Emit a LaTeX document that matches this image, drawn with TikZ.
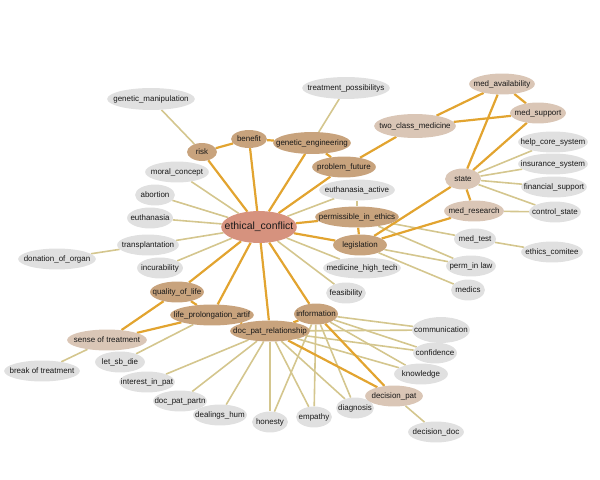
\documentclass[tikz,border=0pt]{standalone}
\usepackage{fontspec}
\setmainfont{Liberation Sans}
\usetikzlibrary{shapes.geometric, backgrounds}
\definecolor{hubfill}{RGB}{214,146,126}
\definecolor{corefill}{RGB}{200,163,125}
\definecolor{midfill}{RGB}{218,198,182}
\definecolor{leaffill}{RGB}{224,224,224}
\definecolor{stronglink}{RGB}{226,164,48}
\definecolor{weaklink}{RGB}{212,198,142}

\begin{document}
\begin{tikzpicture}[x=1bp,y=-1bp,line cap=round,
  base/.style={ellipse,inner xsep=-30bp,inner ysep=0pt,minimum height=21,text=black!90,font=\fontsize{8}{9}\selectfont},
  hub/.style={base,fill=hubfill,font=\fontsize{10.5}{12}\selectfont},
  core/.style={base,fill=corefill},
  mid/.style={base,fill=midfill},
  leaf/.style={base,fill=leaffill},
  strong/.style={stronglink,line width=2.2bp},
  weak/.style={weaklink,line width=1.6bp}]
\useasboundingbox (0,0) rectangle (600,480);
\node[hub,minimum width=76,minimum height=32] (ec) at (259,227) {ethical\_conflict};
\node[leaf,minimum width=88,minimum height=22] (gman) at (151,99) {genetic\_manipulation};
\node[leaf,minimum width=88,minimum height=22] (tposs) at (346,88) {treatment\_possibilitys};
\node[core,minimum width=30,minimum height=18] (risk) at (202,152) {risk};
\node[core,minimum width=36,minimum height=18] (benefit) at (249,139) {benefit};
\node[core,minimum width=78,minimum height=22] (geng) at (312,143) {genetic\_engineering};
\node[core,minimum width=64] (pfut) at (344,167) {problem\_future};
\node[mid,minimum width=82,minimum height=24] (twoc) at (415,126) {two\_class\_medicine};
\node[mid,minimum width=66] (mavail) at (502,84) {med\_availability};
\node[mid,minimum width=56] (msupp) at (538,113) {med\_support};
\node[leaf,minimum width=70] (hcore) at (553,142) {help\_core\_system};
\node[leaf,minimum width=70] (insur) at (553,164) {insurance\_system};
\node[leaf,minimum width=66] (finsup) at (554,187) {financial\_support};
\node[leaf,minimum width=52] (cstate) at (555,212) {control\_state};
\node[mid,minimum width=36] (state) at (463,179) {state};
\node[mid,minimum width=60] (mres) at (474,211) {med\_research};
\node[leaf,minimum width=42] (mtest) at (475,239) {med\_test};
\node[leaf,minimum width=62] (ethcom) at (552,252) {ethics\_comitee};
\node[leaf,minimum width=64] (moral) at (177,172) {moral\_concept};
\node[leaf,minimum width=40] (abort) at (155,195) {abortion};
\node[leaf,minimum width=46] (euth) at (150,218) {euthanasia};
\node[leaf,minimum width=62] (transp) at (148,245) {transplantation};
\node[leaf,minimum width=78] (donat) at (57,259) {donation\_of\_organ};
\node[leaf,minimum width=46] (incur) at (160,268) {incurability};
\node[leaf,minimum width=76] (euthact) at (357,190) {euthanasia\_active};
\node[core,minimum width=84] (permeth) at (357,217) {permissible\_in\_ethics};
\node[core,minimum width=54] (legis) at (360,245) {legislation};
\node[leaf,minimum width=78] (mht) at (362,268) {medicine\_high\_tech};
\node[leaf,minimum width=50] (permlaw) at (471,266) {perm\_in law};
\node[leaf,minimum width=34] (medics) at (468,290) {medics};
\node[leaf,minimum width=40] (feas) at (346,293) {feasibility};
\node[core,minimum width=54] (qol) at (177,292) {quality\_of\_life};
\node[core,minimum width=84] (lpa) at (212,315) {life\_prolongation\_artif};
\node[mid,minimum width=80] (sense) at (107,340) {sense of treatment};
\node[leaf,minimum width=76] (break) at (42,371) {break of treatment};
\node[leaf,minimum width=50] (letdie) at (120,362) {let\_sb\_die};
\node[core,minimum width=80] (dpr) at (270,331) {doc\_pat\_relationship};
\node[core,minimum width=44] (info) at (316,314) {information};
\node[leaf,minimum width=58,minimum height=26] (comm) at (441,330) {communication};
\node[leaf,minimum width=44] (conf) at (435,353) {confidence};
\node[leaf,minimum width=54] (know) at (421,374) {knowledge};
\node[leaf,minimum width=56] (intpat) at (147,382) {interest\_in\_pat};
\node[leaf,minimum width=54] (dpp) at (180,401) {doc\_pat\_partn};
\node[leaf,minimum width=54] (dealh) at (220,415) {dealings\_hum};
\node[leaf,minimum width=36] (honest) at (270,422) {honesty};
\node[leaf,minimum width=36] (empath) at (314,417) {empathy};
\node[leaf,minimum width=38] (diagn) at (355,408) {diagnosis};
\node[mid,minimum width=58] (decpat) at (394,396) {decision\_pat};
\node[leaf,minimum width=56] (decdoc) at (436,432) {decision\_doc};
\begin{scope}[on background layer]
\foreach \a/\b in {ec/moral,ec/abort,ec/euth,ec/transp,ec/incur,ec/euthact,ec/mht,ec/feas,
  risk/gman,geng/tposs,transp/donat,euthact/permeth,permeth/mtest,permeth/permlaw,
  legis/permlaw,legis/medics,mtest/ethcom,state/hcore,state/insur,state/finsup,state/cstate,
  mres/cstate,lpa/letdie,sense/break,dpr/intpat,dpr/dpp,dpr/dealh,dpr/honest,dpr/empath,
  dpr/diagn,dpr/comm,dpr/conf,dpr/know,info/comm,info/conf,info/know,info/diagn,
  info/empath,info/honest,decpat/decdoc}
  \draw[weak] (\a) -- (\b);
\foreach \a/\b in {ec/risk,ec/benefit,ec/geng,ec/pfut,ec/permeth,ec/legis,ec/qol,ec/lpa,
  ec/dpr,ec/info,risk/benefit,benefit/geng,geng/pfut,pfut/twoc,twoc/mavail,twoc/msupp,
  mavail/msupp,mavail/state,msupp/state,state/mres,state/legis,mres/legis,permeth/legis,
  qol/lpa,qol/sense,lpa/sense,lpa/dpr,dpr/info,dpr/decpat,info/decpat}
  \draw[strong] (\a) -- (\b);
\end{scope}
\end{tikzpicture}
\end{document}
